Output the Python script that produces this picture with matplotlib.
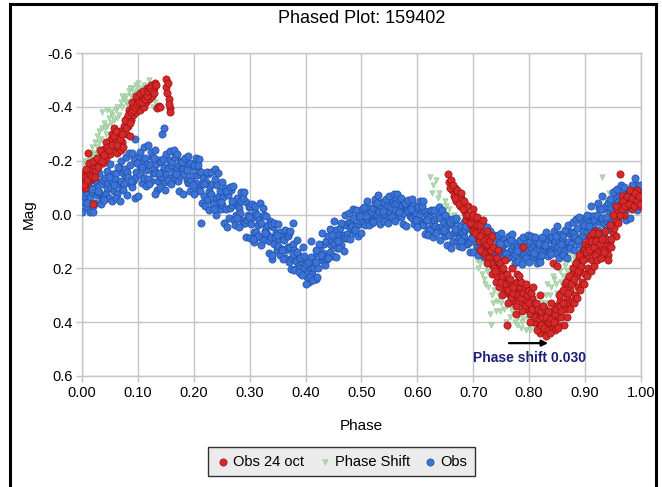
import matplotlib
matplotlib.use("Agg")
import matplotlib.pyplot as plt
from matplotlib.patches import Rectangle

# ----------------------------
# DATA
# ----------------------------
# Obs: main light curve, 5 points per 0.01 in phase
OBS_PHASE = [
    0.001, 0.003, 0.005, 0.007, 0.009, 0.011, 0.013, 0.015, 0.017, 0.019,
    0.021, 0.023, 0.025, 0.027, 0.029, 0.031, 0.033, 0.035, 0.037, 0.039,
    0.041, 0.043, 0.045, 0.047, 0.049, 0.051, 0.053, 0.055, 0.057, 0.059,
    0.061, 0.063, 0.065, 0.067, 0.069, 0.071, 0.073, 0.075, 0.077, 0.079,
    0.081, 0.083, 0.085, 0.087, 0.089, 0.091, 0.093, 0.095, 0.097, 0.099,
    0.101, 0.103, 0.105, 0.107, 0.109, 0.111, 0.113, 0.115, 0.117, 0.119,
    0.121, 0.123, 0.125, 0.127, 0.129, 0.131, 0.133, 0.135, 0.137, 0.139,
    0.141, 0.143, 0.145, 0.147, 0.149, 0.151, 0.153, 0.155, 0.157, 0.159,
    0.161, 0.163, 0.165, 0.167, 0.169, 0.171, 0.173, 0.175, 0.177, 0.179,
    0.181, 0.183, 0.185, 0.187, 0.189, 0.191, 0.193, 0.195, 0.197, 0.199,
    0.201, 0.203, 0.205, 0.207, 0.209, 0.211, 0.213, 0.215, 0.217, 0.219,
    0.221, 0.223, 0.225, 0.227, 0.229, 0.231, 0.233, 0.235, 0.237, 0.239,
    0.241, 0.243, 0.245, 0.247, 0.249, 0.251, 0.253, 0.255, 0.257, 0.259,
    0.261, 0.263, 0.265, 0.267, 0.269, 0.271, 0.273, 0.275, 0.277, 0.279,
    0.281, 0.283, 0.285, 0.287, 0.289, 0.291, 0.293, 0.295, 0.297, 0.299,
    0.301, 0.303, 0.305, 0.307, 0.309, 0.311, 0.313, 0.315, 0.317, 0.319,
    0.321, 0.323, 0.325, 0.327, 0.329, 0.331, 0.333, 0.335, 0.337, 0.339,
    0.341, 0.343, 0.345, 0.347, 0.349, 0.351, 0.353, 0.355, 0.357, 0.359,
    0.361, 0.363, 0.365, 0.367, 0.369, 0.371, 0.373, 0.375, 0.377, 0.379,
    0.381, 0.383, 0.385, 0.387, 0.389, 0.391, 0.393, 0.395, 0.397, 0.399,
    0.401, 0.403, 0.405, 0.407, 0.409, 0.411, 0.413, 0.415, 0.417, 0.419,
    0.421, 0.423, 0.425, 0.427, 0.429, 0.431, 0.433, 0.435, 0.437, 0.439,
    0.441, 0.443, 0.445, 0.447, 0.449, 0.451, 0.453, 0.455, 0.457, 0.459,
    0.461, 0.463, 0.465, 0.467, 0.469, 0.471, 0.473, 0.475, 0.477, 0.479,
    0.481, 0.483, 0.485, 0.487, 0.489, 0.491, 0.493, 0.495, 0.497, 0.499,
    0.501, 0.503, 0.505, 0.507, 0.509, 0.511, 0.513, 0.515, 0.517, 0.519,
    0.521, 0.523, 0.525, 0.527, 0.529, 0.531, 0.533, 0.535, 0.537, 0.539,
    0.541, 0.543, 0.545, 0.547, 0.549, 0.551, 0.553, 0.555, 0.557, 0.559,
    0.561, 0.563, 0.565, 0.567, 0.569, 0.571, 0.573, 0.575, 0.577, 0.579,
    0.581, 0.583, 0.585, 0.587, 0.589, 0.591, 0.593, 0.595, 0.597, 0.599,
    0.601, 0.603, 0.605, 0.607, 0.609, 0.611, 0.613, 0.615, 0.617, 0.619,
    0.621, 0.623, 0.625, 0.627, 0.629, 0.631, 0.633, 0.635, 0.637, 0.639,
    0.641, 0.643, 0.645, 0.647, 0.649, 0.651, 0.653, 0.655, 0.657, 0.659,
    0.661, 0.663, 0.665, 0.667, 0.669, 0.671, 0.673, 0.675, 0.677, 0.679,
    0.681, 0.683, 0.685, 0.687, 0.689, 0.691, 0.693, 0.695, 0.697, 0.699,
    0.701, 0.703, 0.705, 0.707, 0.709, 0.711, 0.713, 0.715, 0.717, 0.719,
    0.721, 0.723, 0.725, 0.727, 0.729, 0.731, 0.733, 0.735, 0.737, 0.739,
    0.741, 0.743, 0.745, 0.747, 0.749, 0.751, 0.753, 0.755, 0.757, 0.759,
    0.761, 0.763, 0.765, 0.767, 0.769, 0.771, 0.773, 0.775, 0.777, 0.779,
    0.781, 0.783, 0.785, 0.787, 0.789, 0.791, 0.793, 0.795, 0.797, 0.799,
    0.801, 0.803, 0.805, 0.807, 0.809, 0.811, 0.813, 0.815, 0.817, 0.819,
    0.821, 0.823, 0.825, 0.827, 0.829, 0.831, 0.833, 0.835, 0.837, 0.839,
    0.841, 0.843, 0.845, 0.847, 0.849, 0.851, 0.853, 0.855, 0.857, 0.859,
    0.861, 0.863, 0.865, 0.867, 0.869, 0.871, 0.873, 0.875, 0.877, 0.879,
    0.881, 0.883, 0.885, 0.887, 0.889, 0.891, 0.893, 0.895, 0.897, 0.899,
    0.901, 0.903, 0.905, 0.907, 0.909, 0.911, 0.913, 0.915, 0.917, 0.919,
    0.921, 0.923, 0.925, 0.927, 0.929, 0.931, 0.933, 0.935, 0.937, 0.939,
    0.941, 0.943, 0.945, 0.947, 0.949, 0.951, 0.953, 0.955, 0.957, 0.959,
    0.961, 0.963, 0.965, 0.967, 0.969, 0.971, 0.973, 0.975, 0.977, 0.979,
    0.981, 0.983, 0.985, 0.987, 0.989, 0.991, 0.993, 0.995, 0.997, 0.999,
]
OBS_MAG = [
    -0.096, -0.048, -0.068, -0.028, -0.080, -0.046, -0.098, -0.066, -0.082, -0.032,
    -0.098, -0.042, -0.123, -0.071, -0.085, -0.083, -0.115, -0.059, -0.128, -0.072,
    -0.134, -0.078, -0.100, -0.116, -0.060, -0.099, -0.124, -0.151, -0.086, -0.135,
    -0.155, -0.078, -0.113, -0.173, -0.123, -0.095, -0.155, -0.113, -0.168, -0.143,
    -0.159, -0.140, -0.184, -0.115, -0.104, -0.125, -0.209, -0.137, -0.158, -0.191,
    -0.219, -0.147, -0.177, -0.117, -0.195, -0.137, -0.209, -0.165, -0.187, -0.118,
    -0.185, -0.123, -0.213, -0.155, -0.170, -0.153, -0.188, -0.125, -0.203, -0.140,
    -0.194, -0.138, -0.160, -0.176, -0.120, -0.149, -0.174, -0.201, -0.136, -0.185,
    -0.197, -0.127, -0.159, -0.213, -0.168, -0.125, -0.185, -0.143, -0.198, -0.173,
    -0.168, -0.150, -0.190, -0.128, -0.118, -0.120, -0.190, -0.130, -0.148, -0.175,
    -0.185, -0.119, -0.146, -0.091, -0.163, -0.087, -0.159, -0.115, -0.137, -0.068,
    -0.122, -0.053, -0.152, -0.089, -0.106, -0.077, -0.115, -0.047, -0.132, -0.063,
    -0.111, -0.043, -0.070, -0.089, -0.021, -0.036, -0.066, -0.099, -0.019, -0.080,
    -0.073, 0.012, -0.026, -0.092, -0.037, 0.019, -0.047, 0.000, -0.061, -0.033,
    -0.024, -0.005, -0.049, 0.020, 0.031, 0.033, -0.045, 0.022, 0.002, -0.028,
    -0.030, 0.037, 0.009, 0.064, -0.008, 0.065, 0.000, 0.040, 0.020, 0.083,
    0.030, 0.093, 0.003, 0.060, 0.045, 0.073, 0.038, 0.100, 0.023, 0.085,
    0.048, 0.110, 0.085, 0.068, 0.130, 0.116, 0.091, 0.064, 0.129, 0.080,
    0.093, 0.163, 0.131, 0.077, 0.122, 0.176, 0.122, 0.160, 0.111, 0.133,
    0.160, 0.174, 0.142, 0.192, 0.200, 0.220, 0.164, 0.212, 0.198, 0.176,
    0.184, 0.232, 0.212, 0.252, 0.200, 0.222, 0.164, 0.200, 0.182, 0.238,
    0.142, 0.198, 0.117, 0.169, 0.156, 0.142, 0.110, 0.167, 0.097, 0.153,
    0.081, 0.138, 0.115, 0.099, 0.156, 0.111, 0.086, 0.059, 0.124, 0.075,
    0.051, 0.113, 0.085, 0.037, 0.077, 0.087, 0.039, 0.073, 0.029, 0.049,
    0.030, 0.044, 0.012, 0.062, 0.070, 0.043, -0.007, 0.036, 0.023, 0.004,
    -0.020, 0.023, 0.005, 0.040, -0.006, 0.021, -0.025, 0.004, -0.011, 0.033,
    -0.024, 0.020, -0.043, -0.003, -0.014, -0.010, -0.034, 0.010, -0.045, -0.001,
    -0.046, -0.003, -0.020, -0.032, 0.012, -0.010, -0.029, -0.050, 0.001, -0.038,
    -0.043, 0.011, -0.013, -0.055, -0.020, 0.008, -0.034, -0.004, -0.043, -0.025,
    -0.024, -0.012, -0.040, 0.004, 0.011, 0.013, -0.037, 0.006, -0.007, -0.026,
    -0.031, 0.017, -0.003, 0.037, -0.015, 0.039, -0.013, 0.019, 0.003, 0.053,
    0.009, 0.059, -0.013, 0.033, 0.021, 0.041, 0.013, 0.063, 0.001, 0.051,
    0.012, 0.062, 0.042, 0.028, 0.078, 0.064, 0.042, 0.018, 0.076, 0.032,
    0.036, 0.098, 0.070, 0.022, 0.062, 0.102, 0.054, 0.088, 0.044, 0.064,
    0.070, 0.084, 0.052, 0.102, 0.110, 0.105, 0.049, 0.097, 0.083, 0.061,
    0.054, 0.102, 0.082, 0.122, 0.070, 0.124, 0.072, 0.104, 0.088, 0.138,
    0.089, 0.139, 0.067, 0.113, 0.101, 0.116, 0.088, 0.138, 0.076, 0.126,
    0.089, 0.133, 0.115, 0.103, 0.147, 0.132, 0.113, 0.092, 0.143, 0.104,
    0.104, 0.158, 0.134, 0.092, 0.127, 0.158, 0.116, 0.146, 0.107, 0.125,
    0.121, 0.134, 0.106, 0.149, 0.156, 0.148, 0.099, 0.141, 0.128, 0.109,
    0.099, 0.141, 0.123, 0.158, 0.113, 0.146, 0.101, 0.129, 0.115, 0.158,
    0.106, 0.150, 0.087, 0.127, 0.117, 0.120, 0.096, 0.140, 0.085, 0.129,
    0.084, 0.128, 0.110, 0.098, 0.142, 0.119, 0.097, 0.073, 0.131, 0.087,
    0.076, 0.138, 0.110, 0.062, 0.102, 0.122, 0.074, 0.108, 0.064, 0.084,
    0.068, 0.082, 0.050, 0.100, 0.108, 0.088, 0.025, 0.079, 0.063, 0.038,
    0.010, 0.064, 0.041, 0.086, 0.028, 0.062, 0.004, 0.040, 0.022, 0.078,
    0.002, 0.058, -0.023, 0.029, 0.016, 0.012, -0.020, 0.037, -0.033, 0.023,
    -0.044, 0.013, -0.010, -0.026, 0.031, -0.009, -0.034, -0.061, 0.004, -0.045,
    -0.067, 0.003, -0.029, -0.083, -0.038, -0.014, -0.068, -0.030, -0.079, -0.057,
    -0.071, -0.056, -0.092, -0.035, -0.026, -0.048, -0.111, -0.057, -0.072, -0.097,
]
# Obs: points on the outer edges of the band, 3 per 0.01 in phase
OBS_EDGE_PHASE = [
    0.000, 0.004, 0.008, 0.010, 0.014, 0.018, 0.020, 0.024, 0.028, 0.030, 0.034, 0.038,
    0.040, 0.044, 0.048, 0.050, 0.054, 0.058, 0.060, 0.064, 0.068, 0.070, 0.074, 0.078,
    0.080, 0.084, 0.088, 0.090, 0.094, 0.098, 0.100, 0.104, 0.108, 0.110, 0.114, 0.118,
    0.120, 0.124, 0.128, 0.130, 0.134, 0.138, 0.140, 0.144, 0.148, 0.150, 0.154, 0.158,
    0.160, 0.164, 0.168, 0.170, 0.174, 0.178, 0.180, 0.184, 0.188, 0.190, 0.194, 0.198,
    0.200, 0.204, 0.208, 0.210, 0.214, 0.218, 0.220, 0.224, 0.228, 0.230, 0.234, 0.238,
    0.240, 0.244, 0.248, 0.250, 0.254, 0.258, 0.260, 0.264, 0.268, 0.270, 0.274, 0.278,
    0.280, 0.284, 0.288, 0.290, 0.294, 0.298, 0.300, 0.304, 0.308, 0.310, 0.314, 0.318,
    0.320, 0.324, 0.328, 0.330, 0.334, 0.338, 0.340, 0.344, 0.348, 0.350, 0.354, 0.358,
    0.360, 0.364, 0.368, 0.370, 0.374, 0.378, 0.380, 0.384, 0.388, 0.390, 0.394, 0.398,
    0.400, 0.404, 0.408, 0.410, 0.414, 0.418, 0.420, 0.424, 0.428, 0.430, 0.434, 0.438,
    0.440, 0.444, 0.448, 0.450, 0.454, 0.458, 0.460, 0.464, 0.468, 0.470, 0.474, 0.478,
    0.480, 0.484, 0.488, 0.490, 0.494, 0.498, 0.500, 0.504, 0.508, 0.510, 0.514, 0.518,
    0.520, 0.524, 0.528, 0.530, 0.534, 0.538, 0.540, 0.544, 0.548, 0.550, 0.554, 0.558,
    0.560, 0.564, 0.568, 0.570, 0.574, 0.578, 0.580, 0.584, 0.588, 0.590, 0.594, 0.598,
    0.600, 0.604, 0.608, 0.610, 0.614, 0.618, 0.620, 0.624, 0.628, 0.630, 0.634, 0.638,
    0.640, 0.644, 0.648, 0.650, 0.654, 0.658, 0.660, 0.664, 0.668, 0.670, 0.674, 0.678,
    0.680, 0.684, 0.688, 0.690, 0.694, 0.698, 0.700, 0.704, 0.708, 0.710, 0.714, 0.718,
    0.720, 0.724, 0.728, 0.730, 0.734, 0.738, 0.740, 0.744, 0.748, 0.750, 0.754, 0.758,
    0.760, 0.764, 0.768, 0.770, 0.774, 0.778, 0.780, 0.784, 0.788, 0.790, 0.794, 0.798,
    0.800, 0.804, 0.808, 0.810, 0.814, 0.818, 0.820, 0.824, 0.828, 0.830, 0.834, 0.838,
    0.840, 0.844, 0.848, 0.850, 0.854, 0.858, 0.860, 0.864, 0.868, 0.870, 0.874, 0.878,
    0.880, 0.884, 0.888, 0.890, 0.894, 0.898, 0.900, 0.904, 0.908, 0.910, 0.914, 0.918,
    0.920, 0.924, 0.928, 0.930, 0.934, 0.938, 0.940, 0.944, 0.948, 0.950, 0.954, 0.958,
    0.960, 0.964, 0.968, 0.970, 0.974, 0.978, 0.980, 0.984, 0.988, 0.990, 0.994, 0.998,
]
OBS_EDGE_MAG = [
    -0.008, -0.120, -0.044, -0.118, -0.008, -0.094, -0.008, -0.130, -0.089, -0.155, -0.038, -0.059,
    -0.053, -0.161, -0.141, -0.187, -0.052, -0.111, -0.063, -0.178, -0.050, -0.200, -0.093, -0.213,
    -0.074, -0.228, -0.123, -0.227, -0.062, -0.191, -0.069, -0.231, -0.177, -0.250, -0.107, -0.132,
    -0.113, -0.233, -0.210, -0.240, -0.090, -0.155, -0.104, -0.207, -0.093, -0.224, -0.127, -0.235,
    -0.112, -0.238, -0.152, -0.225, -0.088, -0.195, -0.075, -0.210, -0.165, -0.218, -0.088, -0.110,
    -0.077, -0.209, -0.185, -0.208, -0.043, -0.115, -0.031, -0.158, -0.018, -0.157, -0.038, -0.170,
    0.002, -0.153, -0.048, -0.121, 0.030, -0.088, 0.048, -0.101, -0.051, -0.105, 0.038, 0.014,
    0.048, -0.084, -0.060, -0.083, 0.082, 0.011, 0.089, -0.038, 0.103, -0.030, 0.078, -0.043,
    0.115, -0.025, 0.070, 0.005, 0.143, 0.035, 0.165, 0.030, 0.075, 0.035, 0.152, 0.132,
    0.167, 0.059, 0.080, 0.068, 0.203, 0.145, 0.208, 0.139, 0.215, 0.161, 0.226, 0.154,
    0.259, 0.175, 0.232, 0.159, 0.242, 0.177, 0.232, 0.111, 0.151, 0.070, 0.187, 0.167,
    0.162, 0.054, 0.075, 0.023, 0.158, 0.100, 0.125, 0.033, 0.135, 0.003, 0.089, -0.007,
    0.092, -0.020, 0.056, -0.017, 0.079, 0.004, 0.068, -0.027, 0.005, -0.051, 0.040, 0.025,
    0.027, -0.057, -0.042, -0.071, 0.034, -0.012, 0.024, -0.057, 0.033, -0.068, 0.008, -0.076,
    0.024, -0.075, -0.008, -0.062, 0.034, -0.041, 0.041, -0.054, -0.022, -0.056, 0.035, 0.020,
    0.047, -0.049, -0.031, -0.049, 0.071, 0.019, 0.075, -0.017, 0.085, -0.017, 0.069, -0.027,
    0.094, -0.018, 0.058, 0.002, 0.112, 0.026, 0.124, 0.016, 0.052, 0.012, 0.116, 0.098,
    0.122, 0.026, 0.044, 0.021, 0.141, 0.089, 0.140, 0.048, 0.150, 0.048, 0.134, 0.038,
    0.157, 0.045, 0.121, 0.062, 0.172, 0.086, 0.171, 0.077, 0.108, 0.069, 0.160, 0.145,
    0.162, 0.078, 0.094, 0.074, 0.179, 0.134, 0.174, 0.093, 0.183, 0.085, 0.160, 0.076,
    0.176, 0.078, 0.144, 0.083, 0.179, 0.104, 0.176, 0.082, 0.113, 0.064, 0.155, 0.140,
    0.147, 0.063, 0.079, 0.041, 0.161, 0.109, 0.150, 0.058, 0.160, 0.038, 0.124, 0.028,
    0.130, 0.018, 0.094, 0.011, 0.135, 0.038, 0.122, 0.001, 0.041, -0.030, 0.087, 0.067,
    0.067, -0.041, -0.021, -0.067, 0.068, 0.010, 0.046, -0.057, 0.058, -0.084, 0.013, -0.095,
    0.019, -0.108, -0.022, -0.104, 0.020, -0.077, 0.012, -0.110, -0.069, -0.135, -0.018, -0.038,
]
# Obs: stray points off the main band
OBS_STRAY_PHASE = [0.095, 0.118, 0.143, 0.146, 0.130, 0.213, 0.236, 0.305, 0.340,
                   0.372, 0.385, 0.395, 0.410, 0.418, 0.378, 0.998, 0.999]
OBS_STRAY_MAG = [-0.280, -0.260, -0.300, -0.320, -0.075, 0.030, -0.020, 0.090, 0.150,
                 0.060, 0.095, 0.120, 0.100, 0.130, 0.030, -0.110, -0.045]

OCT24_PHASE = [
    0.002, 0.003, 0.005, 0.006, 0.008, 0.010, 0.012, 0.014, 0.016, 0.018, 0.020, 0.022,
    0.024, 0.027, 0.030, 0.033, 0.036, 0.038, 0.040, 0.043, 0.046, 0.048, 0.050, 0.052,
    0.054, 0.056, 0.058, 0.060, 0.062, 0.064, 0.066, 0.068, 0.070, 0.072, 0.075, 0.078,
    0.080, 0.082, 0.084, 0.086, 0.088, 0.090, 0.092, 0.094, 0.096, 0.098, 0.100, 0.103,
    0.105, 0.108, 0.110, 0.112, 0.114, 0.117, 0.119, 0.121, 0.124, 0.126, 0.128, 0.131,
    0.134, 0.137, 0.140, 0.150, 0.151, 0.152, 0.153, 0.156, 0.157, 0.158, 0.155,
    0.004, 0.007, 0.009, 0.013, 0.017, 0.019, 0.023, 0.026, 0.029, 0.032, 0.035, 0.039,
    0.042, 0.045, 0.049, 0.053, 0.057, 0.061, 0.063, 0.067, 0.071, 0.074, 0.077, 0.079,
    0.083, 0.085, 0.087, 0.089, 0.091, 0.095, 0.097, 0.099, 0.102, 0.104, 0.107, 0.109,
    0.113, 0.116, 0.118, 0.122, 0.125, 0.129, 0.133,
    0.655, 0.656, 0.662, 0.665, 0.668, 0.670, 0.673, 0.676, 0.679, 0.682, 0.685, 0.688,
    0.690, 0.693, 0.696, 0.699, 0.702, 0.705, 0.708, 0.711, 0.714, 0.717, 0.720, 0.723,
    0.726, 0.729, 0.732, 0.735, 0.738, 0.741, 0.744, 0.747, 0.750, 0.753, 0.756, 0.759,
    0.761, 0.763, 0.766, 0.769, 0.772, 0.775, 0.778, 0.781, 0.784, 0.787, 0.790, 0.791,
    0.794, 0.797, 0.800, 0.803, 0.806, 0.809, 0.812, 0.815, 0.818, 0.820, 0.823, 0.826,
    0.829, 0.832, 0.835, 0.838, 0.841, 0.843, 0.845, 0.848, 0.850, 0.852, 0.855, 0.858,
    0.862, 0.864, 0.867, 0.870, 0.873, 0.876, 0.879, 0.882, 0.885, 0.888, 0.891, 0.894,
    0.897, 0.900, 0.903, 0.906, 0.909, 0.912, 0.915, 0.918, 0.921, 0.925, 0.930, 0.935,
    0.940, 0.945, 0.950, 0.955, 0.958, 0.962, 0.964, 0.967, 0.970, 0.973, 0.976, 0.979,
    0.982, 0.985, 0.988, 0.991, 0.994, 0.997, 0.999,
    0.658, 0.660, 0.664, 0.667, 0.671, 0.674, 0.678, 0.681, 0.684, 0.687, 0.691, 0.694,
    0.698, 0.700, 0.704, 0.707, 0.710, 0.713, 0.716, 0.719, 0.722, 0.725, 0.728, 0.731,
    0.734, 0.737, 0.740, 0.743, 0.746, 0.749, 0.752, 0.755, 0.758, 0.762, 0.765, 0.768,
    0.771, 0.774, 0.777, 0.780, 0.783, 0.786, 0.789, 0.793, 0.796, 0.799, 0.802, 0.805,
    0.808, 0.811, 0.814, 0.817, 0.821, 0.824, 0.827, 0.830, 0.833, 0.836, 0.839, 0.842,
    0.846, 0.849, 0.853, 0.856, 0.860, 0.866, 0.869, 0.872, 0.875, 0.878, 0.881, 0.884,
    0.887, 0.890, 0.893, 0.896, 0.899, 0.902, 0.905, 0.908, 0.911, 0.914, 0.917, 0.920,
    0.923, 0.927, 0.932, 0.937, 0.942, 0.947, 0.952, 0.956, 0.960, 0.963, 0.966, 0.969,
    0.972, 0.975, 0.978, 0.981, 0.984, 0.987, 0.990, 0.993, 0.996, 0.998,
    0.700, 0.706, 0.712, 0.718, 0.724, 0.730, 0.736, 0.742, 0.748, 0.754, 0.760, 0.766,
    0.772, 0.778, 0.785, 0.792, 0.798, 0.804, 0.810, 0.816, 0.822, 0.828, 0.834, 0.840,
    0.846, 0.852, 0.858, 0.864, 0.870, 0.876, 0.882, 0.888, 0.894, 0.900, 0.906, 0.912,
    0.918, 0.924, 0.930, 0.936, 0.944, 0.950, 0.956,
    0.712, 0.718, 0.725, 0.733, 0.739, 0.745, 0.752, 0.757, 0.763, 0.770, 0.776, 0.782,
    0.788, 0.795, 0.801, 0.807, 0.813, 0.819, 0.825, 0.831, 0.837, 0.844, 0.851, 0.857,
    0.861, 0.868, 0.874, 0.880, 0.886, 0.892, 0.898, 0.904, 0.910, 0.916, 0.922, 0.928,
    0.934, 0.941, 0.946,
]
OCT24_MAG = [
    -0.150, -0.120, -0.100, -0.140, -0.160, -0.230, -0.125, -0.150, -0.170, -0.135, -0.040, -0.180,
    -0.160, -0.190, -0.200, -0.215, -0.230, -0.190, -0.245, -0.210, -0.230, -0.260, -0.225, -0.280,
    -0.300, -0.250, -0.320, -0.270, -0.230, -0.290, -0.250, -0.310, -0.240, -0.270, -0.330, -0.300,
    -0.360, -0.330, -0.390, -0.290, -0.350, -0.400, -0.370, -0.420, -0.380, -0.400, -0.430, -0.390,
    -0.410, -0.440, -0.400, -0.450, -0.420, -0.470, -0.430, -0.450, -0.480, -0.440, -0.470, -0.490,
    -0.395, -0.405, -0.400, -0.505, -0.475, -0.450, -0.490, -0.430, -0.395, -0.380, -0.410,
    -0.110, -0.170, -0.130, -0.190, -0.145, -0.200, -0.140, -0.210, -0.175, -0.240, -0.200, -0.220,
    -0.270, -0.250, -0.240, -0.260, -0.290, -0.310, -0.260, -0.280, -0.300, -0.250, -0.350, -0.320,
    -0.370, -0.340, -0.380, -0.420, -0.390, -0.400, -0.440, -0.410, -0.420, -0.450, -0.420, -0.460,
    -0.430, -0.440, -0.460, -0.470, -0.460, -0.450, -0.480,
    -0.150, -0.120, -0.090, -0.070, -0.100, -0.050, -0.080, -0.030, -0.060, -0.040, -0.010, 0.020,
    -0.030, 0.010, 0.040, -0.020, 0.050, 0.030, 0.080, 0.060, 0.100, 0.070, 0.120, 0.090,
    0.140, 0.170, 0.130, 0.190, 0.160, 0.220, 0.200, 0.240, 0.210, 0.260, 0.230, 0.280,
    0.410, 0.250, 0.300, 0.270, 0.320, 0.290, 0.250, 0.310, 0.280, 0.330, 0.120, 0.300,
    0.320, 0.350, 0.300, 0.340, 0.310, 0.370, 0.400, 0.380, 0.420, 0.440, 0.400, 0.430,
    0.390, 0.410, 0.370, 0.420, 0.360, 0.180, 0.400, 0.340, 0.190, 0.380, 0.320, 0.290,
    0.410, 0.260, 0.310, 0.240, 0.280, 0.220, 0.250, 0.190, 0.230, 0.170, 0.210, 0.160,
    0.140, 0.110, 0.160, 0.120, 0.080, 0.140, 0.100, 0.060, 0.080, 0.120, 0.150, 0.110,
    0.130, 0.100, 0.070, 0.020, -0.010, -0.150, -0.040, -0.070, 0.000, -0.060, -0.030, -0.080,
    -0.050, -0.020, -0.070, -0.040, -0.090, -0.060, -0.030,
    -0.100, -0.130, -0.110, -0.060, -0.090, -0.040, -0.080, -0.020, -0.050, 0.000, 0.000, 0.030,
    0.010, 0.060, 0.070, 0.040, 0.100, 0.080, 0.130, 0.100, 0.150, 0.110, 0.160, 0.180,
    0.220, 0.200, 0.250, 0.230, 0.270, 0.250, 0.230, 0.290, 0.260, 0.280, 0.250, 0.310,
    0.290, 0.260, 0.340, 0.300, 0.270, 0.310, 0.290, 0.340, 0.300, 0.330, 0.370, 0.350,
    0.400, 0.380, 0.430, 0.390, 0.410, 0.380, 0.420, 0.380, 0.430, 0.400, 0.390, 0.420,
    0.370, 0.350, 0.300, 0.340, 0.280, 0.250, 0.290, 0.230, 0.260, 0.200, 0.240, 0.180,
    0.210, 0.150, 0.190, 0.170, 0.130, 0.140, 0.100, 0.130, 0.100, 0.070, 0.120, 0.100,
    0.140, 0.110, 0.130, 0.090, 0.150, 0.120, 0.050, 0.080, 0.030, 0.000, -0.020, -0.050,
    -0.030, -0.070, -0.040, -0.090, -0.060, -0.030, -0.080, -0.050, -0.070, -0.040,
    0.000, 0.010, 0.040, 0.140, 0.060, 0.100, 0.120, 0.160, 0.180, 0.200, 0.220, 0.240,
    0.270, 0.220, 0.250, 0.270, 0.280, 0.290, 0.330, 0.350, 0.360, 0.350, 0.360, 0.330,
    0.430, 0.410, 0.380, 0.350, 0.330, 0.320, 0.300, 0.270, 0.250, 0.220, 0.200, 0.170,
    0.150, 0.070, 0.090, 0.060, 0.040, 0.000, -0.030,
    0.130, 0.020, 0.180, 0.080, 0.210, 0.130, 0.300, 0.170, 0.330, 0.200, 0.370, 0.230,
    0.360, 0.260, 0.400, 0.270, 0.330, 0.300, 0.340, 0.450, 0.440, 0.400, 0.420, 0.360,
    0.330, 0.380, 0.350, 0.330, 0.310, 0.280, 0.260, 0.230, 0.210, 0.190, 0.170, 0.160,
    0.140, 0.170, 0.090,
]

SHIFT_PHASE = [
    0.001, 0.003, 0.006, 0.009, 0.012, 0.015, 0.018, 0.021, 0.024, 0.027, 0.030, 0.033,
    0.036, 0.039, 0.042, 0.045, 0.048, 0.051, 0.054, 0.057, 0.060, 0.063, 0.066, 0.069,
    0.072, 0.075, 0.078, 0.081, 0.084, 0.087, 0.090, 0.093, 0.096, 0.100, 0.104, 0.120,
    0.124, 0.127, 0.130, 0.035, 0.045, 0.025, 0.015,
    0.005, 0.011, 0.019, 0.026, 0.031, 0.041, 0.052, 0.062, 0.071, 0.079, 0.086, 0.098, 0.110,
    0.622, 0.628, 0.633, 0.637, 0.641, 0.645, 0.649, 0.653, 0.657, 0.661, 0.665, 0.669,
    0.673, 0.677, 0.681, 0.685, 0.689, 0.693, 0.697, 0.700, 0.703, 0.706, 0.709, 0.712,
    0.716, 0.720, 0.724, 0.727, 0.730, 0.731, 0.734, 0.738, 0.742, 0.746, 0.750, 0.755,
    0.760, 0.765, 0.770, 0.775, 0.780, 0.785, 0.790, 0.795, 0.800, 0.805, 0.810, 0.815,
    0.820, 0.825, 0.830, 0.835, 0.840, 0.845, 0.850, 0.855, 0.860, 0.865, 0.870, 0.875,
    0.880, 0.885, 0.890, 0.895, 0.900, 0.905, 0.910, 0.915, 0.920, 0.925, 0.930, 0.933,
    0.938, 0.943, 0.948, 0.953, 0.958, 0.963, 0.968, 0.973, 0.978, 0.983, 0.990,
    0.626, 0.639, 0.651, 0.659, 0.671, 0.683, 0.695, 0.705, 0.714, 0.722, 0.736, 0.748,
    0.758, 0.768, 0.778, 0.788, 0.798, 0.808, 0.818, 0.828, 0.838, 0.848, 0.858, 0.868,
    0.878, 0.888, 0.898, 0.908, 0.918, 0.928, 0.940, 0.955, 0.970, 0.985,
    0.712, 0.726, 0.740, 0.752, 0.762, 0.772, 0.782, 0.792, 0.802, 0.812, 0.822, 0.832,
    0.842, 0.852, 0.862, 0.872, 0.882, 0.892, 0.902, 0.912, 0.922, 0.930,
]
SHIFT_MAG = [
    -0.170, -0.190, -0.160, -0.200, -0.230, -0.210, -0.250, -0.230, -0.270, -0.290, -0.310, -0.280,
    -0.320, -0.340, -0.300, -0.330, -0.360, -0.340, -0.370, -0.350, -0.390, -0.400, -0.370, -0.420,
    -0.400, -0.430, -0.440, -0.410, -0.460, -0.440, -0.470, -0.450, -0.480, -0.490, -0.470, -0.500,
    -0.480, -0.400, -0.420, -0.380, -0.390, -0.220, -0.180,
    -0.200, -0.190, -0.220, -0.250, -0.270, -0.320, -0.380, -0.360, -0.440, -0.420, -0.470, -0.460, -0.480,
    -0.140, -0.110, -0.130, -0.060, -0.030, -0.010, -0.050, 0.000, -0.020, 0.020, 0.000, 0.040,
    0.020, 0.060, 0.040, 0.080, 0.060, 0.110, 0.090, 0.140, 0.120, 0.170, 0.200, 0.180,
    0.220, 0.240, 0.210, 0.270, 0.370, 0.410, 0.300, 0.280, 0.320, 0.300, 0.330, 0.350,
    0.340, 0.380, 0.360, 0.400, 0.380, 0.420, 0.390, 0.430, 0.410, 0.380, 0.420, 0.400,
    0.390, 0.360, 0.300, 0.330, 0.270, 0.240, 0.290, 0.210, 0.230, 0.190, 0.170, 0.200,
    0.160, 0.130, 0.100, 0.140, 0.080, 0.060, 0.100, 0.040, 0.010, -0.030, -0.140, -0.060,
    -0.020, -0.080, -0.050, -0.090, -0.060, -0.030, -0.070, -0.040, -0.080, -0.050, -0.060,
    -0.080, -0.080, -0.030, 0.010, 0.050, 0.020, 0.070, 0.100, 0.160, 0.260, 0.330, 0.360,
    0.400, 0.340, 0.410, 0.400, 0.390, 0.400, 0.420, 0.330, 0.300, 0.260, 0.250, 0.210,
    0.180, 0.150, 0.110, 0.070, 0.030, -0.010, -0.050, -0.070, -0.060, -0.070,
    0.120, 0.200, 0.360, 0.290, 0.420, 0.310, 0.350, 0.360, 0.430, 0.360, 0.330, 0.260,
    0.230, 0.200, 0.170, 0.150, 0.120, 0.070, 0.040, 0.000, -0.040, -0.070,
]

X_TICKS = [0.0, 0.1, 0.2, 0.3, 0.4, 0.5, 0.6, 0.7, 0.8, 0.9, 1.0]
Y_TICKS = [-0.6, -0.4, -0.2, 0.0, 0.2, 0.4, 0.6]
SHIFT_TEXT = "Phase shift 0.030"

# ----------------------------
# STYLE
# ----------------------------
plt.rcParams["font.family"] = ["Liberation Sans", "DejaVu Sans"]
GRID_COLOR = "#c4c4c4"
BLUE, BLUE_EDGE = "#3b74d6", "#1f4fa8"
RED, RED_EDGE = "#d42a2a", "#9c1010"

fig = plt.figure(figsize=(6.62, 4.87), dpi=100)
ax = fig.add_axes([0.124, 0.228, 0.844, 0.663])

obs_x = OBS_PHASE + OBS_EDGE_PHASE + OBS_STRAY_PHASE
obs_y = OBS_MAG + OBS_EDGE_MAG + OBS_STRAY_MAG

ax.scatter(SHIFT_PHASE, SHIFT_MAG, marker="v", s=15, color="#b3dbb3",
           edgecolors="#8fc28f", linewidths=0.4, label="Phase Shift", zorder=2)
ax.scatter(obs_x, obs_y, marker="o", s=27, color=BLUE, edgecolors=BLUE_EDGE,
           linewidths=0.5, label="Obs", zorder=3)
ax.scatter(OCT24_PHASE, OCT24_MAG, marker="o", s=27, color=RED,
           edgecolors=RED_EDGE, linewidths=0.5, label="Obs 24 oct", zorder=4)

ax.set_xlim(0, 1)
ax.set_ylim(0.6, -0.6)
ax.set_xticks(X_TICKS)
ax.set_yticks(Y_TICKS)
ax.set_xticklabels([f"{v:.2f}" for v in X_TICKS])
ax.set_yticklabels([f"{v:.1f}" for v in Y_TICKS])
ax.tick_params(labelsize=10.5, color=GRID_COLOR, length=4, width=1, pad=3)
ax.grid(True, color=GRID_COLOR, linewidth=1)
ax.set_axisbelow(True)
for s in ax.spines.values():
    s.set_color(GRID_COLOR)
    s.set_linewidth(1)

ax.set_title("Phased Plot: 159402", fontsize=13, pad=22)
ax.set_xlabel("Phase", fontsize=11, labelpad=14)
ax.set_ylabel("Mag", fontsize=11, labelpad=8)

# phase shift arrow + label
ax.annotate("", xy=(0.834, 0.478), xytext=(0.764, 0.478),
            arrowprops=dict(arrowstyle="-|>", color="black", lw=1.6,
                            mutation_scale=9, shrinkA=0, shrinkB=0), zorder=5)
ax.text(0.80, 0.535, SHIFT_TEXT, ha="center", va="center", fontsize=10,
        fontweight="bold", color="#1c1f73", zorder=5)

# legend in the order of the reference
h, l = ax.get_legend_handles_labels()
order = [l.index("Obs 24 oct"), l.index("Phase Shift"), l.index("Obs")]
leg = fig.legend([h[i] for i in order], [l[i] for i in order], loc="center",
                 bbox_to_anchor=(0.516, 0.052), ncol=3, fontsize=10.5,
                 frameon=True, fancybox=False, handletextpad=0.2,
                 columnspacing=0.9, borderpad=0.5, handlelength=1.0)
leg.get_frame().set_facecolor("#e6e6e6")
leg.get_frame().set_edgecolor("black")
leg.get_frame().set_linewidth(1)

# black frame round the picture
fig.patches.append(Rectangle((10 / 662, -0.02), 646 / 662, 1.02 - 4 / 487,
                             transform=fig.transFigure, fill=False,
                             edgecolor="black", linewidth=2.2))

fig.savefig("out.png", dpi=100)
